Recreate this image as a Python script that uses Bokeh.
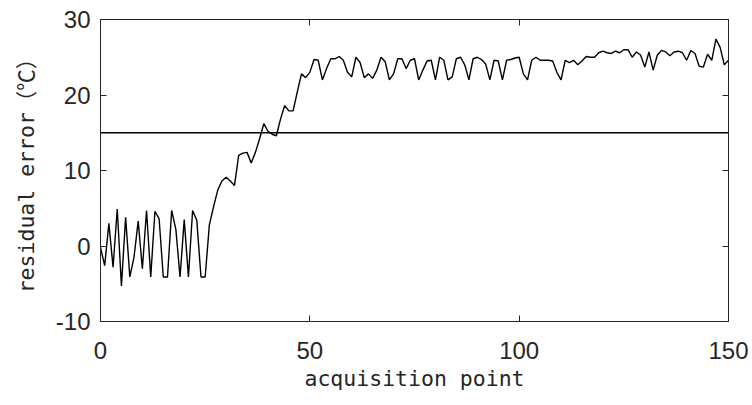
from bokeh.plotting import figure
from bokeh.models import Range1d, LinearAxis, FixedTicker
from bokeh.embed import file_html
from bokeh.resources import INLINE

# residual error per acquisition point (0..150)
residual = [
    -0.2, -2.6, 3.0, -2.8, 4.9, -5.3, 3.8, -4.1, -1.5, 3.3,
    -3.0, 4.7, -4.1, 4.6, 3.6, -4.1, -4.1, 4.7, 2.2, -4.1,
    3.5, -4.1, 4.7, 3.4, -4.1, -4.1, 2.8, 5.2, 7.4, 8.6,
    9.1, 8.6, 8.0, 12.0, 12.3, 12.4, 11.0, 12.4, 14.2, 16.2,
    15.2, 14.8, 14.6, 16.8, 18.6, 17.9, 17.9, 20.4, 22.8, 22.3,
    23.0, 24.7, 24.6, 22.0, 23.5, 24.8, 24.8, 25.1, 24.6, 23.0,
    22.4, 25.0, 24.3, 22.3, 22.8, 22.2, 23.3, 25.0, 24.4, 22.0,
    22.8, 24.8, 24.8, 23.5, 24.6, 24.8, 22.0, 23.3, 24.5, 24.6,
    22.0, 25.0, 24.6, 22.0, 22.4, 24.8, 25.0, 24.0, 22.0, 24.8,
    25.0, 24.7, 24.1, 22.0, 24.6, 24.5, 22.0, 24.6, 24.7, 24.9,
    25.0, 22.8, 22.0, 24.6, 25.0, 24.6, 24.6, 24.6, 24.5, 23.0,
    22.0, 24.6, 24.3, 24.6, 24.0, 24.5, 25.1, 25.0, 25.0, 25.6,
    25.8, 25.6, 25.5, 25.8, 25.6, 26.0, 26.0, 25.0, 25.7, 25.3,
    23.7, 25.7, 23.3, 25.3, 25.9, 25.7, 25.2, 25.7, 25.8, 25.6,
    24.6, 25.9, 25.5, 23.8, 23.7, 25.4, 24.6, 27.4, 26.3, 24.0,
    24.6,
]
points = list(range(len(residual)))
threshold = 15
x_ticks = [0, 50, 100, 150]
y_ticks = [-10, 0, 10, 20, 30]
x_label = "acquisition point"
y_label = "residual error（℃）"

TICK_FONT = "Liberation Sans"
LABEL_FONT = "'DejaVu Sans Mono', 'Noto Sans CJK SC'"
TXT = "#262626"

p = figure(width=752, height=405, output_backend="svg", toolbar_location=None,
           x_range=Range1d(0, 150), y_range=Range1d(-10, 30),
           min_border_left=100, min_border_right=24, min_border_top=19,
           min_border_bottom=84)
p.background_fill_color = "white"
p.border_fill_color = "white"
p.outline_line_color = TXT
p.outline_line_width = 1
p.xgrid.visible = False
p.ygrid.visible = False

p.line(points, residual, line_color="black", line_width=1.4)
p.line([points[0], points[-1]], [threshold, threshold], line_color="black", line_width=1.4)

def style(ax, ticks, show_labels=True):
    ax.ticker = FixedTicker(ticks=ticks)
    ax.major_tick_in = 6
    ax.major_tick_out = 0
    ax.minor_tick_line_color = None
    ax.axis_line_color = TXT
    ax.major_tick_line_color = TXT
    ax.major_label_text_color = TXT
    ax.major_label_text_font = TICK_FONT
    ax.axis_label_text_font = LABEL_FONT
    ax.axis_label_text_color = TXT
    ax.axis_label_text_font_style = "normal"
    if not show_labels:
        ax.major_label_text_font_size = "0px"
        ax.major_label_standoff = 0

xa = p.xaxis[0]
ya = p.yaxis[0]
style(xa, x_ticks)
style(ya, y_ticks)
xa.major_label_text_font_size = "24px"
ya.major_label_text_font_size = "24px"
ya.major_label_overrides = {-10: "-10"}
xa.major_label_standoff = 20
ya.major_label_standoff = 10
xa.axis_label = x_label
ya.axis_label = y_label
xa.axis_label_text_font_size = "21.5px"
ya.axis_label_text_font_size = "21.5px"
xa.axis_label_standoff = 4
ya.axis_label_standoff = 14

top = LinearAxis()
style(top, x_ticks, show_labels=False)
p.add_layout(top, "above")
right = LinearAxis()
style(right, y_ticks, show_labels=False)
p.add_layout(right, "right")

open("out.html", "w").write(file_html(p, INLINE))
